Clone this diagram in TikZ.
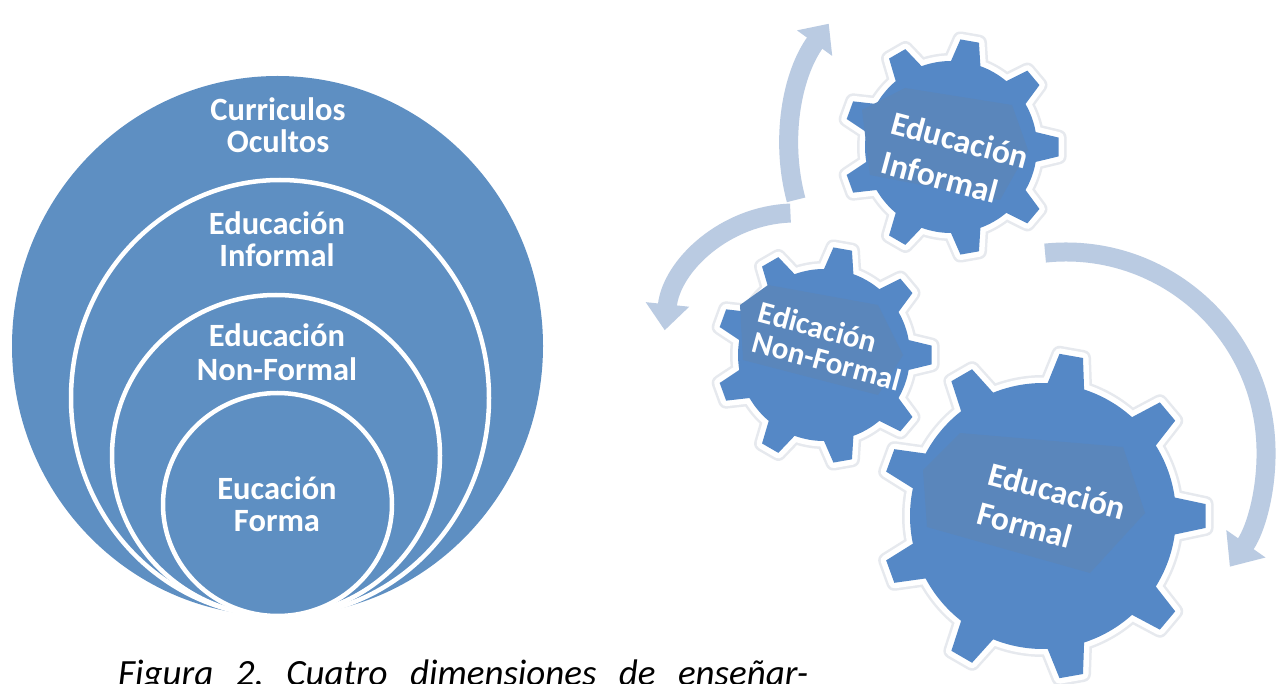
\documentclass[tikz,border=0pt]{standalone}
\usepackage{fontspec}
\setmainfont{Carlito}
\usetikzlibrary{arrows.meta}
\definecolor{circblue}{HTML}{5E8FC2}
\definecolor{gearblue}{HTML}{5588C6}
\definecolor{geardark}{HTML}{5A86BB}
\definecolor{arrowblue}{HTML}{BACBE2}
\definecolor{halo}{HTML}{E6E9EE}
\tikzset{
  ring/.style={fill=circblue, draw=white, line width=4.5pt},
  ctext/.style={text=white, font=\fontsize{32.5}{33}\selectfont\bfseries, inner sep=0pt, anchor=base},
  gtext/.style={text=white, font=\fontsize{33.5}{34}\selectfont\bfseries, inner sep=0pt, rotate=-15},
  gtextsmall/.style={gtext, font=\fontsize{31}{32}\selectfont\bfseries},
  arrowshaft/.style={draw=arrowblue, line width=19pt},
  gearhalo/.style={draw=halo, line width=16pt, line join=round},
  gearwhite/.style={draw=white, line width=11pt, line join=round},
  gearfill/.style={fill=gearblue},
}
% #1 cx, #2 cy (screen), #3 body radius, #4 tip radius, #5 half base angle, #6 half tip angle, #7 style
\newcommand\mygear[7]{%
  \path[#7, shift={(#1,-#2)}] (-#5:#3)
    \foreach \k in {0,...,8}{
      -- ({40*\k-#6}:#4) -- ({40*\k+#6}:#4) -- ({40*\k+#5}:#3)
      arc[start angle={40*\k+#5}, end angle={40*(\k+1)-#5}, radius=#3]
    } -- cycle;
}
\newcommand\fullgear[6]{%
  \mygear{#1}{#2}{#3}{#4}{#5}{#6}{gearhalo}
  \mygear{#1}{#2}{#3}{#4}{#5}{#6}{gearwhite}
  \mygear{#1}{#2}{#3}{#4}{#5}{#6}{gearfill}
}
\begin{document}
\begin{tikzpicture}[x=1pt, y=1pt]
  \useasboundingbox (0,0) rectangle (1279,-684);
  \clip (0,0) rectangle (1279,-684);
  \fill[white] (0,0) rectangle (1279,-684);

  % ---------- nested circles ----------
  \fill[circblue] (277.5,-346) ellipse [x radius=265.5, y radius=270];
  \draw[ring] (280,-398) ellipse [x radius=209, y radius=218];
  \draw[ring] (276,-455.5) ellipse [x radius=164, y radius=160.5];
  \draw[ring] (277.5,-504.5) ellipse [x radius=114.5, y radius=111.5];

  \node[ctext] (co1) at (278,-121) {Curriculos};
  \node[ctext] (co2) at (278,-153) {Ocultos};
  \node[ctext] (ei1) at (277,-235) {Educación};
  \node[ctext] (ei2) at (277,-267) {Informal};
  \node[ctext] (en1) at (277,-347) {Educación};
  \node[ctext] (en2) at (277,-380) {Non-Formal};
  \node[ctext] (ef1) at (277,-499) {Eucación};
  \node[ctext] (ef2) at (277,-531) {Forma};

  % ---------- arrows ----------
  \draw[arrowshaft, -{Triangle[width=42pt,length=24pt]}]
    (997,-146) ++(195:208) arc[start angle=195, end angle=144, radius=208];
  \draw[arrowshaft, -{Triangle[width=42pt,length=26pt]}]
    (795,-344) ++(92:131) arc[start angle=92, end angle=174, radius=131];
  \draw[arrowshaft, -{Triangle[width=46pt,length=28pt]}]
    (1066,-452) ++(96:200) arc[start angle=96, end angle=-35, radius=200];

  % ---------- gears ----------
  \fullgear{951}{147}{86}{108}{10}{5}
  \fill[geardark] (862,-110) -- (905,-88) -- (1012,-105) -- (1028,-150) -- (1000,-200) -- (870,-175) -- cycle;
  \node[gtext] (g1a) at (960,-140) {Educación};
  \node[gtext] (g1b) at (940,-177) {Informal};

  \fullgear{824}{355}{86}{108}{10}{5}
  \fill[geardark] (740,-305) -- (768,-285) -- (878,-305) -- (903,-355) -- (878,-395) -- (743,-360) -- cycle;
  \node[gtextsmall] (g2a) at (818,-327) {Edicación};
  \node[gtextsmall] (g2b) at (827,-361) {Non-Formal};

  \fullgear{1043}{516}{133}{163}{8}{4.2}
  \fill[geardark] (923,-470) -- (960,-433) -- (1123,-447) -- (1145,-513) -- (1090,-573) -- (927,-527) -- cycle;
  \node[gtext] (g3a) at (1057,-491) {Educación};
  \node[gtext] (g3b) at (1025,-525) {Formal};

  % ---------- caption ----------
  \node[anchor=base west, inner sep=0pt, font=\fontsize{37}{39}\selectfont\itshape\frenchspacing] (cap)
    at (118,-685) {\makebox[690pt][s]{Figura 2. Cuatro dimensiones de enseñar-}};
\end{tikzpicture}
\end{document}
